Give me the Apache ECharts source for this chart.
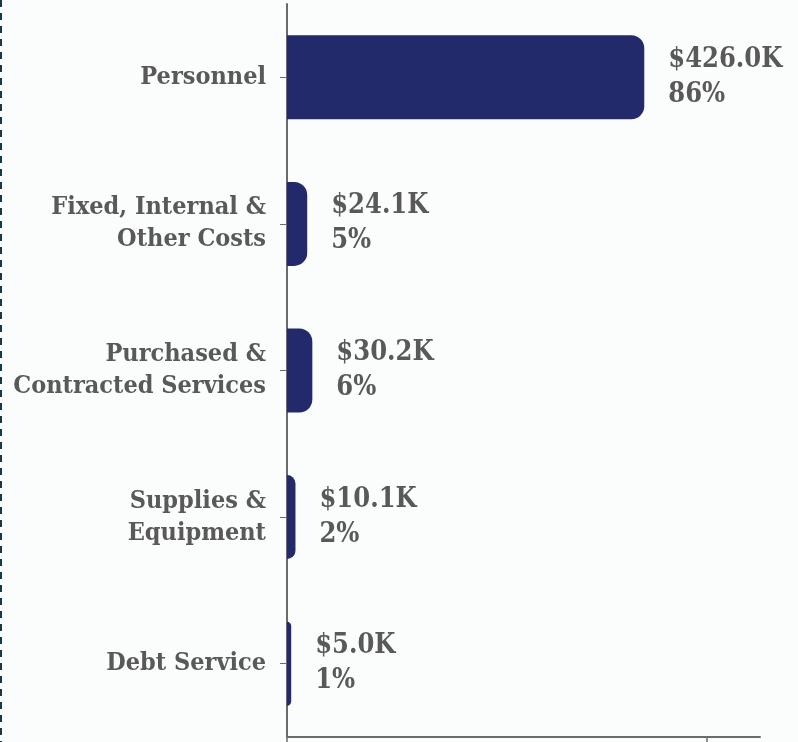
<!DOCTYPE html>
<html>
<head>
<meta charset="utf-8">
<script src="https://cdn.jsdelivr.net/npm/echarts@6/dist/echarts.min.js"></script>
<style>
  html, body { margin: 0; padding: 0; background: #fbfcfc; }
  #chart { width: 798px; height: 742px; }
</style>
</head>
<body>
<div id="chart"></div>
<script>
// Budget breakdown by expense category
const categories = [
  'Personnel',
  'Fixed, Internal &\nOther Costs',
  'Purchased &\nContracted Services',
  'Supplies &\nEquipment',
  'Debt Service'
];
// Amounts in thousands of dollars
const amounts = [426.0, 24.1, 30.2, 10.1, 5.0];
// Share of the total, percent
const shares = [86, 5, 6, 2, 1];
// Tick marks along the value axis
const valueTicks = [0, 500];

const FONT = '"DejaVu Serif Condensed", "DejaVu Serif", serif';
const TEXT = '#595959';
const NAVY = '#222a6b';

const chart = echarts.init(document.getElementById('chart'), null, { renderer: 'canvas' });

chart.setOption({
  backgroundColor: '#fbfcfc',
  animation: false,
  grid: { left: 287, right: 38, top: 4, bottom: 5, containLabel: false },
  xAxis: {
    type: 'value',
    min: 0,
    max: 564,
    interval: 500,
    axisLine: { show: true, lineStyle: { color: '#6b6b6b', width: 2 } },
    axisTick: { show: true, length: 6, customValues: valueTicks, lineStyle: { color: '#6b6b6b', width: 1.5 } },
    axisLabel: { show: false },
    splitLine: { show: false }
  },
  yAxis: {
    type: 'category',
    inverse: true,
    data: categories,
    axisLine: { show: true, lineStyle: { color: '#6b6b6b', width: 2 } },
    axisTick: { show: true, alignWithLabel: true, length: 7, lineStyle: { color: '#6b6b6b', width: 1 } },
    axisLabel: {
      margin: 21,
      color: TEXT,
      fontFamily: FONT,
      fontWeight: 'bold',
      fontSize: 25,
      lineHeight: 32,
      align: 'right'
    }
  },
  series: [{
    type: 'bar',
    data: amounts,
    barWidth: 84,
    itemStyle: { color: NAVY, borderRadius: [0, 13, 13, 0] },
    label: {
      show: true,
      position: 'right',
      distance: 24,
      color: TEXT,
      fontFamily: FONT,
      fontWeight: 'bold',
      fontSize: 27,
      lineHeight: 35,
      align: 'left',
      formatter: p => '$' + amounts[p.dataIndex].toFixed(1) + 'K\n' + shares[p.dataIndex] + '%'
    }
  }],
  graphic: [{
    type: 'line',
    shape: { x1: 1, y1: 0, x2: 1, y2: 742 },
    style: { stroke: '#17384a', lineWidth: 2, lineDash: [7, 6] }
  }]
});
</script>
</body>
</html>
